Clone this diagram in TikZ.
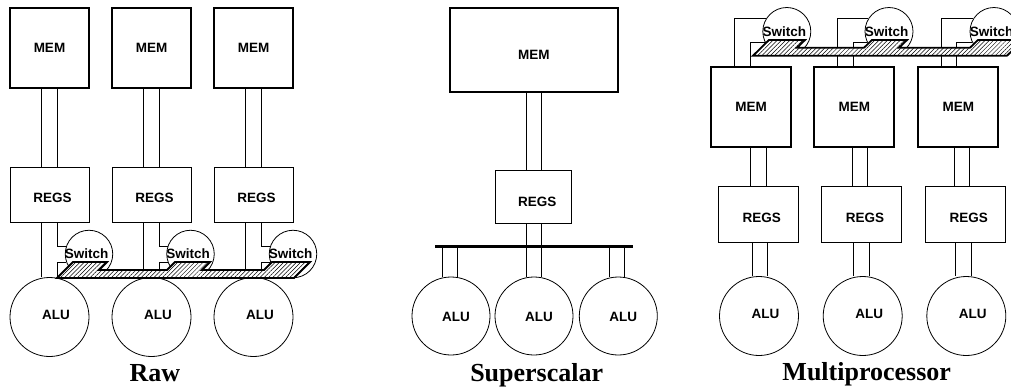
\documentclass[tikz,border=0pt]{standalone}
\usepackage{fontspec}
\setmainfont{Liberation Serif}
\newfontfamily\arialfont{Liberation Sans}
\usetikzlibrary{patterns.meta}
\begin{document}
\begin{tikzpicture}[x=1pt,y=-1pt,
 lbl/.style={font=\arialfont\bfseries\fontsize{13.5}{15}\selectfont, inner sep=0pt},
 membox/.style={draw, line width=1.8pt, inner sep=0pt},
 regsbox/.style={draw, line width=0.9pt, inner sep=0pt},
 alu/.style={draw, circle, line width=0.8pt, inner sep=0pt, minimum size=79pt},
 sw/.style={draw, circle, line width=0.8pt, inner sep=0pt, minimum size=47.5pt},
 wire/.style={line width=0.75pt},
 bus/.style={line width=1.8pt, line join=miter, preaction={fill=white},
   pattern={Lines[angle=45,distance=3pt,line width=0.5pt]}},
 sbus/.style={line width=2.6pt},
 title/.style={font=\bfseries\fontsize{26}{28}\selectfont, anchor=base, inner sep=0pt}
]
\useasboundingbox (0,0) rectangle (1011,389);
\clip (0,0) rectangle (1011,389);

% ===================== Raw =====================
\foreach \i/\c/\s in {1/49.5/89, 2/151.5/190.5, 3/253.5/293}{
  \node[membox, minimum width=79.5pt, minimum height=80pt,
        label={[lbl]center:MEM}] (rm\i) at (\c,48) {};
  \node[regsbox, minimum width=79pt, minimum height=55pt,
        label={[lbl,xshift=3pt,yshift=-3pt]center:REGS}] (rr\i) at (\c,194.5) {};
  \node[alu, label={[lbl,xshift=6.5pt,yshift=2pt]center:ALU}] (ra\i) at (\c,317) {};
  \node[sw, label={[lbl,xshift=-2.3pt]center:Switch}] (rs\i) at (\s,254) {};
  \draw[wire] ([xshift=-8pt]rm\i.south) -- ([xshift=-8pt]rm\i.south |- rr\i.north);
  \draw[wire] ([xshift=8pt]rm\i.south) -- ([xshift=8pt]rm\i.south |- rr\i.north);
  \draw[wire] ([xshift=-8pt]rr\i.south) -- ([xshift=-8pt]rr\i.south |- ra\i.north);
  \draw[wire] ([xshift=8pt]rr\i.south) |- (rs\i.162);
  \draw[wire] (rs\i.200) -| ([xshift=8pt]rr\i.south |- rs\i.south);
}
\draw[bus] (57,278) -- (73,262) -- (107,262) -- (99,270) -- (167,270) -- (175,262)
  -- (210,262) -- (202,270) -- (264,270) -- (272,262) -- (310,262) -- (294,278) -- cycle;
\node[title] (t1) at (155,381) {Raw};

% ===================== Superscalar =====================
\node[membox, minimum width=167.7pt, minimum height=84pt,
      label={[lbl,yshift=-4.7pt]center:MEM}] (sm) at (533.8,50.3) {};
\node[regsbox, minimum width=76pt, minimum height=53.3pt,
      label={[lbl,xshift=3.6pt,yshift=-5pt]center:REGS}] (sr) at (533.7,196.7) {};
\node[alu, minimum size=78pt, label={[lbl,xshift=5pt,yshift=-0.7pt]center:ALU}] (sa1) at (451,316) {};
\node[alu, minimum size=78pt, label={[lbl,xshift=5pt,yshift=-1.3pt]center:ALU}] (sa2) at (534,316) {};
\node[alu, minimum size=78pt, label={[lbl,xshift=5pt,yshift=-0.7pt]center:ALU}] (sa3) at (618.3,316) {};
\coordinate (sbl) at (435,246.7);
\coordinate (sbr) at (632.7,246.7);
\draw[wire] ([xshift=-7.7pt]sm.south) -- ([xshift=-7.7pt]sm.south |- sr.north);
\draw[wire] ([xshift=7.5pt]sm.south) -- ([xshift=7.5pt]sm.south |- sr.north);
\draw[wire] ([xshift=-7.7pt]sr.south) -- ([xshift=-7.7pt]sr.south |- sa2.north);
\draw[wire] ([xshift=7.3pt]sr.south) -- ([xshift=7.3pt]sr.south |- sa2.north);
\draw[wire] ([xshift=-8.3pt]sa1.north |- sbl) -- ([xshift=-8.3pt]sa1.north);
\draw[wire] ([xshift=6.7pt]sa1.north |- sbl) -- ([xshift=6.7pt]sa1.north);
\draw[wire] ([xshift=-9pt]sa3.north |- sbl) -- ([xshift=-9pt]sa3.north);
\draw[wire] ([xshift=6pt]sa3.north |- sbl) -- ([xshift=6pt]sa3.north);
\draw[sbus] (sbl) -- (sbr);
\node[title] (t2) at (536.7,381) {Superscalar};

% ===================== Multiprocessor =====================
\foreach \i/\m/\r/\a/\s/\ml/\mr/\rl/\rrr/\al/\ar/\tl/\tr in
  {1/751/758.3/759/786.8/-8/8/-6/9.4/-16.7/-0.7/0/0,
   2/854.3/861.7/862.7/889/-9.7/6/-8.4/7.6/-16.6/-1/0/0,
   3/958.3/965.3/966.3/994/-11.3/4/-9.6/5.7/-17/-1.6/0/0}{
  \node[membox, minimum width=80pt, minimum height=80pt,
        label={[lbl]center:MEM}] (mm\i) at (\m,106.7) {};
  \node[regsbox, minimum width=80pt, minimum height=55.6pt,
        label={[lbl,xshift=3.4pt,yshift=-3.8pt]center:REGS}] (mr\i) at (\r,214.5) {};
  \node[alu, label={[lbl,xshift=6.5pt,yshift=1.7pt]center:ALU}] (ma\i) at (\a,316) {};
  \node[sw, minimum size=48pt, label={[lbl,xshift=-2.5pt]center:Switch}] (ms\i) at (\s,31.5) {};
  \draw[wire] ([xshift=\ml pt]mr\i.north |- mm\i.south) -- ([xshift=\ml pt]mr\i.north);
  \draw[wire] ([xshift=\mr pt]mr\i.north |- mm\i.south) -- ([xshift=\mr pt]mr\i.north);
  \draw[wire] ([xshift=\rl pt]mr\i.south) -- ([xshift=\rl pt]mr\i.south |- ma\i.north);
  \draw[wire] ([xshift=\rrr pt]mr\i.south) -- ([xshift=\rrr pt]mr\i.south |- ma\i.north);
  \draw[wire] ([xshift=\al pt]mm\i.north) |- (ms\i.148.6);
  \draw[wire] ([xshift=\ar pt]mm\i.north) |- (ms\i.206.7);
}
\draw[bus] (753,55.7) -- (769,40) -- (805,40) -- (797,47.7) -- (864,47.7) -- (872,40)
  -- (907,40) -- (899,47.7) -- (970,47.7) -- (978,40) -- (1023,40) -- (1007,55.7) -- cycle;
\node[title] (t3) at (866.7,380) {Multiprocessor};
\end{tikzpicture}
\end{document}
